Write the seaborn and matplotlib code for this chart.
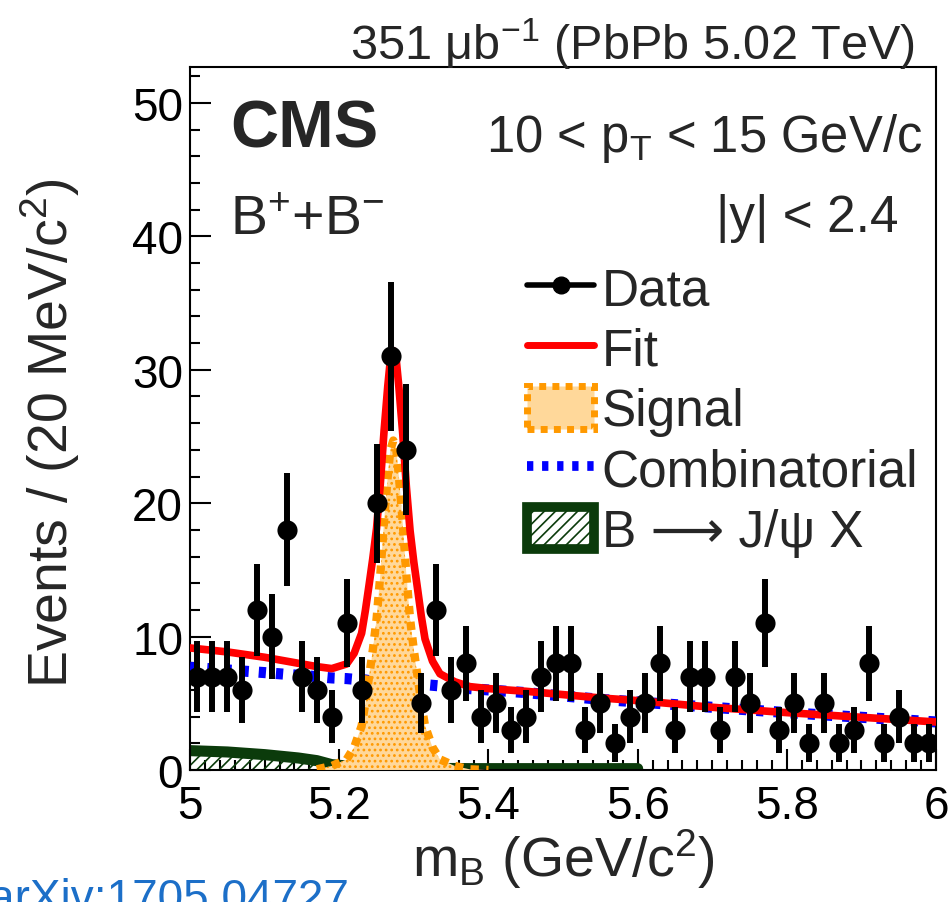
import numpy as np
import pandas as pd
import matplotlib
matplotlib.use("Agg")
import matplotlib.pyplot as plt
from matplotlib.lines import Line2D
from matplotlib.patches import Patch
from matplotlib.ticker import MultipleLocator
import seaborn as sns

# Data histogram: 50 bins of 20 MeV between 5.0 and 6.0 GeV
bin_lo = 5.0
bin_width = 0.02
counts = [7, 7, 7, 6, 12, 10, 18, 7, 6, 4,
          11, 6, 20, 31, 24, 5, 12, 6, 8, 4,
          5, 3, 4, 7, 8, 8, 3, 5, 2, 4,
          5, 8, 3, 7, 7, 3, 7, 5, 11, 3,
          5, 2, 5, 2, 3, 8, 2, 4, 2, 2]

# fit components on a common mass grid
curve_mass = [5.00, 5.05, 5.10, 5.145, 5.17, 5.19, 5.21, 5.22, 5.23, 5.235,
              5.24, 5.245, 5.25, 5.255, 5.26, 5.265, 5.2685, 5.2725, 5.2765, 5.28,
              5.285, 5.29, 5.295, 5.30, 5.305, 5.31, 5.315, 5.325, 5.335, 5.355,
              5.375, 5.40, 5.45, 5.50, 5.55, 5.60, 5.70, 5.80, 5.90, 6.00]
signal_curve = [0, 0, 0, 0, 0.05, 0.3, 0.8, 1.7, 3.3, 5.0,
                7.0, 9.0, 11.3, 14.6, 18.6, 22.0, 24.0, 24.7, 24.0, 22.0,
                18.6, 14.6, 11.3, 9.0, 7.0, 5.0, 3.3, 1.7, 0.8, 0.3,
                0.05, 0, 0, 0, 0, 0, 0, 0, 0, 0]
comb_curve = [7.7, 7.5, 7.3, 7.1, 7.0, 6.9, 6.85, 6.8, 6.75, 6.75,
              6.7, 6.7, 6.65, 6.65, 6.6, 6.6, 6.6, 6.6, 6.55, 6.55,
              6.55, 6.5, 6.5, 6.45, 6.45, 6.4, 6.4, 6.35, 6.3, 6.2,
              6.1, 6.0, 5.8, 5.55, 5.3, 5.1, 4.7, 4.3, 3.95, 3.6]
jpsi_curve = [1.45, 1.35, 1.15, 0.9, 0.7, 0.4, 0.3, 0.25, 0.2, 0.2,
              0.18, 0.17, 0.16, 0.15, 0.15, 0.14, 0.14, 0.14, 0.13, 0.13,
              0.13, 0.13, 0.12, 0.12, 0.12, 0.12, 0.12, 0.11, 0.11, 0.11,
              0.1, 0.1, 0.1, 0.1, 0.1, 0.1, 0, 0, 0, 0]
signal_range = (5.165, 5.40)
jpsi_range = (5.0, 5.60)

sns.set_theme(style="ticks")
plt.rcParams["font.family"] = ["Liberation Sans", "DejaVu Sans"]
plt.rcParams["mathtext.fontset"] = "custom"
plt.rcParams["mathtext.rm"] = "Liberation Sans"
plt.rcParams["mathtext.it"] = "Liberation Sans:italic"
plt.rcParams["mathtext.bf"] = "Liberation Sans:bold"
plt.rcParams["hatch.linewidth"] = 1.2

RED = "#ff0000"
BLUE = "#0000ff"
ORANGE = "#ff9900"
GREEN = "#0b3b0b"

df = pd.DataFrame({"mass": bin_lo + bin_width * (np.arange(len(counts)) + 0.5),
                   "events": counts})
df["err"] = np.sqrt(df["events"])

cv = pd.DataFrame({"mass": curve_mass, "signal": signal_curve,
                   "comb": comb_curve, "jpsi": jpsi_curve})
cv["fit"] = cv["signal"] + cv["comb"] + cv["jpsi"]
sig = cv[(cv["mass"] >= signal_range[0]) & (cv["mass"] <= signal_range[1])]
jp = cv[(cv["mass"] >= jpsi_range[0]) & (cv["mass"] <= jpsi_range[1])]

fig = plt.figure(figsize=(9.52, 9.03), dpi=100)
ax = fig.add_axes([0.1996, 0.1462, 0.7837, 0.7785])

# B -> J/psi X: hatched area with thick outline
ax.fill_between(jp["mass"], 0, jp["jpsi"], facecolor="none", edgecolor=GREEN,
                hatch="///", lw=0, zorder=1)
sns.lineplot(data=jp, x="mass", y="jpsi", ax=ax, color=GREEN, lw=8, zorder=2)

# combinatorial background
sns.lineplot(data=cv, x="mass", y="comb", ax=ax, color=BLUE, lw=8,
             linestyle=(0, (0.65, 0.9)), zorder=3)

# signal: dotted-pattern fill with thick dotted outline
ax.fill_between(sig["mass"], 0, sig["signal"], facecolor="#ffd89a",
                edgecolor=ORANGE, hatch="...", lw=0, zorder=4)
sns.lineplot(data=sig, x="mass", y="signal", ax=ax, color=ORANGE, lw=6,
             linestyle=(0, (1, 0.9)), zorder=5)

# total fit
sns.lineplot(data=cv, x="mass", y="fit", ax=ax, color=RED, lw=5.5, zorder=6)

# data points
ax.errorbar(df["mass"], df["events"], yerr=df["err"], fmt="none",
            ecolor="black", elinewidth=4.3, capsize=0, zorder=7)
sns.scatterplot(data=df, x="mass", y="events", ax=ax, color="black", s=210,
                edgecolor="black", linewidth=0, zorder=8)

ax.set_xlim(5.0, 6.0)
ax.set_ylim(0, 52.7)
ax.xaxis.set_major_locator(MultipleLocator(0.2))
ax.xaxis.set_minor_locator(MultipleLocator(0.02))
ax.yaxis.set_major_locator(MultipleLocator(10))
ax.yaxis.set_minor_locator(MultipleLocator(2))
ax.set_xticks([5.0, 5.2, 5.4, 5.6, 5.8, 6.0])
ax.set_xticklabels(["5", "5.2", "5.4", "5.6", "5.8", "6"])
ax.tick_params(which="both", direction="in", top=False, right=False,
               width=1.5, labelsize=33, colors="black")
ax.tick_params(which="major", length=15)
ax.tick_params(which="minor", length=7)
ax.tick_params(axis="x", pad=10)
ax.tick_params(axis="y", pad=5)
for s in ax.spines.values():
    s.set_linewidth(1.5)
    s.set_color("black")

ax.set_xlabel(r"$\mathrm{m_{B}}$ (GeV/c$^{2}$)", fontsize=40)
ax.set_ylabel(r"Events / (20 MeV/c$^{2}$)", fontsize=40)
ax.xaxis.set_label_coords(0.5, -0.08)
ax.yaxis.set_label_coords(-0.145, 0.48)

ax.text(0.054, 0.955, "CMS", transform=ax.transAxes, fontsize=48,
        fontweight="bold", ha="left", va="top")
ax.text(0.054, 0.762, r"B$^{+}$+B$^{-}$", transform=ax.transAxes, fontsize=40,
        ha="left", va="baseline")
ax.text(0.981, 0.88, r"10 < p$_{\mathrm{T}}$ < 15 GeV/c", transform=ax.transAxes,
        fontsize=36.5, ha="right", va="baseline")
ax.text(0.949, 0.767, "|y| < 2.4", transform=ax.transAxes, fontsize=37,
        ha="right", va="baseline")
fig.text(915 / 952, 1 - 60 / 903, r"351 $\mathrm{\mu}$b$^{-1}$ (PbPb 5.02 TeV)",
         fontsize=35, ha="right", va="baseline")
fig.text(-0.012, -0.01, "arXiv:1705.04727", color="#1c6fc8", fontsize=33,
         ha="left", va="baseline")

handles = [
    Line2D([], [], color="black", lw=4, marker="o", ms=12),
    Line2D([], [], color=RED, lw=5),
    Patch(facecolor="#ffd89a", edgecolor=ORANGE, lw=5, linestyle=(0, (1, 0.9))),
    Line2D([], [], color=BLUE, lw=7, linestyle=(0, (0.65, 0.9))),
    Patch(facecolor="white", edgecolor=GREEN, hatch="///", lw=7),
]
labels = ["Data", "Fit", "Signal", "Combinatorial", "B \u27f6 J/\u03c8 X"]
ax.legend(handles, labels, loc="upper left", bbox_to_anchor=(0.452, 0.718),
          frameon=False, fontsize=37, handlelength=1.3, handleheight=0.9,
          handletextpad=0.15, labelspacing=0.2, borderpad=0, borderaxespad=0)

fig.savefig("out.png", dpi=100)
